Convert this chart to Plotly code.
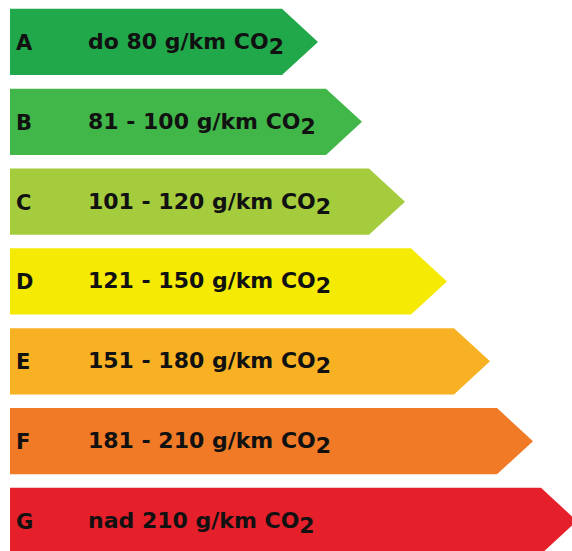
import plotly.graph_objects as go

# Data
classes = ["A", "B", "C", "D", "E", "F", "G"]
labels = [
    "do 80 g/km CO",
    "81 - 100 g/km CO",
    "101 - 120 g/km CO",
    "121 - 150 g/km CO",
    "151 - 180 g/km CO",
    "181 - 210 g/km CO",
    "nad 210 g/km CO",
]
arrow_tip = [318, 362, 405, 447, 490, 533, 577]
colors = ["#21a84b", "#41b74a", "#a5cc3d", "#f5ea04", "#f8b123", "#f07a26", "#e6202a"]

LEFT = 10
DEPTH = 36
H = 0.415
FONT = "DejaVu Sans, Liberation Sans, Arial"

fig = go.Figure()
for i, (c, tip, col) in enumerate(zip(classes, arrow_tip, colors)):
    sh = tip - DEPTH
    fig.add_trace(go.Scatter(
        x=[LEFT, sh, tip, sh, LEFT, LEFT],
        y=[i - H, i - H, i, i + H, i + H, i - H],
        fill="toself", fillcolor=col, mode="lines",
        line=dict(width=0, color=col), hoverinfo="skip", showlegend=False,
    ))
    fig.add_annotation(x=14, y=i, text="<b>" + c + "</b>", xanchor="left", yanchor="middle",
                       showarrow=False, yshift=-1,
                       font=dict(family=FONT, size=21, color="#111"))
    fig.add_annotation(x=86, y=i,
                       text="<b>" + labels[i] + "<sub><span style='font-size:22px'>2</span></sub></b>",
                       xanchor="left", yanchor="middle", showarrow=False, yshift=-2,
                       font=dict(family=FONT, size=22, color="#111"))

fig.update_layout(
    width=572, height=551,
    margin=dict(l=0, r=0, t=0, b=0),
    paper_bgcolor="white", plot_bgcolor="white",
    xaxis=dict(range=[0, 572], visible=False, fixedrange=True),
    yaxis=dict(range=[6.376, -0.526], visible=False, fixedrange=True),
)
fig.write_html("out.html", config={"displayModeBar": False},
               post_script="document.body.style.margin='0';")
